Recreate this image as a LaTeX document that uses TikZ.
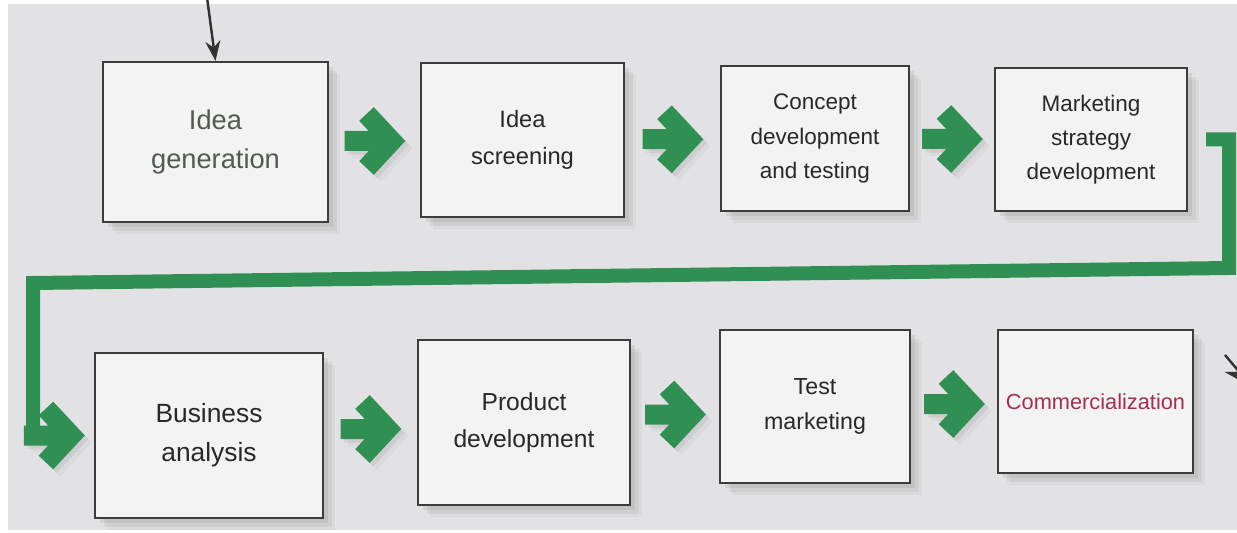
\documentclass[tikz,border=0pt]{standalone}
\usepackage{fontspec}
\setmainfont{Liberation Sans}
\usepackage{tikz}
\usetikzlibrary{calc,shadows,arrows.meta}
\definecolor{pagegray}{RGB}{226,226,228}
\definecolor{boxfill}{RGB}{243,243,243}
\definecolor{boxline}{RGB}{60,60,60}
\definecolor{boxtext}{RGB}{40,40,40}
\definecolor{arrowgreen}{RGB}{48,143,82}
\definecolor{launchred}{RGB}{168,46,78}
\begin{document}
\begin{tikzpicture}[>={Stealth[length=4mm,width=3mm]},
	box/.style={draw=boxline,line width=1.2pt,fill=boxfill,rectangle,align=center,text=boxtext,
		drop shadow={shadow xshift=7pt,shadow yshift=-7pt,opacity=.08},
		drop shadow={shadow xshift=5pt,shadow yshift=-5pt,opacity=.12},
		drop shadow={shadow xshift=3pt,shadow yshift=-3pt,opacity=.16}},
	flowarrow/.style={fill=arrowgreen,
		drop shadow={shadow xshift=4pt,shadow yshift=-4pt,opacity=.08},
		drop shadow={shadow xshift=2pt,shadow yshift=-2pt,opacity=.14}},
	loopline/.style={draw=arrowgreen,line width=0.28cm,line join=miter},
	inline/.style={draw=black!80,line width=1.4pt}]
		\useasboundingbox (0,0) rectangle (24.74,-10.66);
		\clip (0,0) rectangle (24.74,-10.66);
		\fill[white] (0,0) rectangle (24.74,-10.66);
		\fill[pagegray] (0.16,-0.08) rectangle (24.74,-10.6);
		% upper row
		\node (idea)    [box,minimum width=4.5cm,minimum height=3.2cm,text={rgb,255:red,80;green,90;blue,80},
			font=\fontsize{15.5}{22}\selectfont] at (4.31,-2.84) {Idea\\generation};
		\node (screen)  [box,minimum width=4.06cm,minimum height=3.08cm,
			font=\fontsize{13.5}{21}\selectfont] at (10.45,-2.80) {Idea\\screening};
		\node (concept) [box,minimum width=3.76cm,minimum height=2.9cm,
			font=\fontsize{12.8}{19.5}\selectfont] at (16.30,-2.77) {Concept\\development\\and testing};
		\node (mkt)     [box,minimum width=3.84cm,minimum height=2.86cm,
			font=\fontsize{12.8}{19.5}\selectfont] at (21.82,-2.79) {Marketing\\strategy\\development};
		% lower row
		\node (biz)     [box,minimum width=4.56cm,minimum height=3.3cm,
			font=\fontsize{15}{22}\selectfont] at (4.18,-8.71) {Business\\analysis};
		\node (prod)    [box,minimum width=4.24cm,minimum height=3.3cm,
			font=\fontsize{14}{21}\selectfont] at (10.48,-8.45) {Product\\development};
		\node (test)    [box,minimum width=3.8cm,minimum height=3.06cm,
			font=\fontsize{13.2}{20}\selectfont] at (16.30,-8.13) {Test\\marketing};
		\node (comm)    [box,minimum width=3.9cm,minimum height=2.86cm,text=launchred,
			font=\fontsize{12.4}{18}\selectfont] at (21.91,-8.03) {Commercialization};
		% green arrows between the steps
		\foreach \a/\b in {idea/screen,screen/concept,concept/mkt,biz/prod,prod/test,test/comm}
			\fill[flowarrow,shift={($(\a.east)!.5!(\b.west)$)}] (-0.6,0.2) -- (-0.116,0.2) -- (-0.306,0.404) -- (-0.014,0.676)
				-- (0.616,0) -- (-0.014,-0.676) -- (-0.306,-0.404) -- (-0.116,-0.2) -- (-0.6,-0.2) -- cycle;
		% loop from the upper row down to the lower row
		\coordinate (rturn) at (24.58,-5.36);
		\coordinate (lturn) at (0.66,-5.66);
		\coordinate (bizin) at ($(biz.west)+(-0.8,0)$);
		\draw[loopline] ([xshift=0.36cm]mkt.east) -| (rturn) -- (lturn) |- (bizin);
		\fill[flowarrow,shift={(bizin)}] (-0.6,0.2) -- (-0.116,0.2) -- (-0.306,0.404) -- (-0.014,0.676)
			-- (0.616,0) -- (-0.014,-0.676) -- (-0.306,-0.404) -- (-0.116,-0.2) -- (-0.6,-0.2) -- cycle;
		% incoming and outgoing arrows
		\coordinate (topin) at (4.14,0.05);
		\draw[->,inline] (topin) -- (idea.north);
		\coordinate (outa) at (24.5,-7.1);
		\coordinate (outb) at (25.05,-7.75);
		\draw[-{Stealth[length=6mm,width=4.5mm]},inline] (outa) -- (outb);
	\end{tikzpicture}
\end{document}
